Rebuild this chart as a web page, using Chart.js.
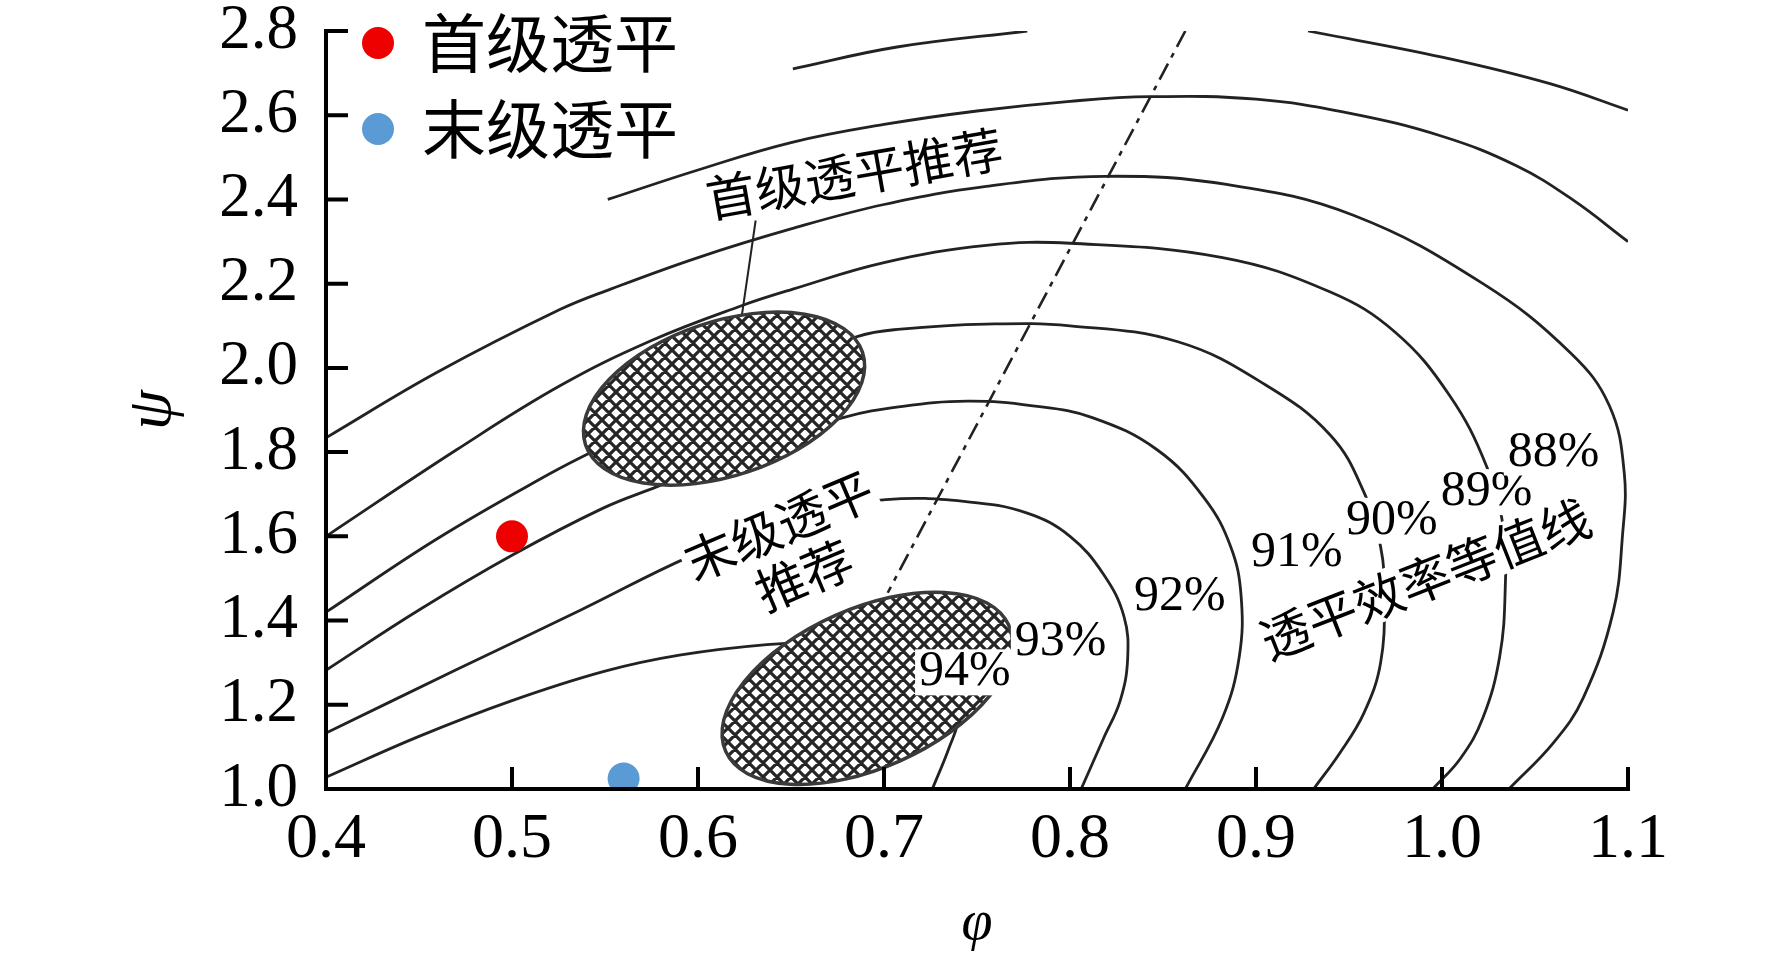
<!DOCTYPE html>
<html><head><meta charset="utf-8">
<script src="https://cdn.jsdelivr.net/npm/chart.js@4.4.1/dist/chart.umd.min.js"></script>
<style>html,body{margin:0;padding:0;background:#fff;overflow:hidden}#wrap{width:1772px;height:961px}</style>
</head><body><div id="wrap"><canvas id="c" width="1772" height="961"></canvas></div>
<script>
// ---------- data ----------
const xTicks = [0.4, 0.5, 0.6, 0.7, 0.8, 0.9, 1.0, 1.1];
const xTickLabels = ['0.4', '0.5', '0.6', '0.7', '0.8', '0.9', '1.0', '1.1'];
const yTicks = [1.0, 1.2, 1.4, 1.6, 1.8, 2.0, 2.2, 2.4, 2.6, 2.8];
const yTickLabels = ['1.0', '1.2', '1.4', '1.6', '1.8', '2.0', '2.2', '2.4', '2.6', '2.8'];
const xTitle = 'φ';
const yTitle = 'ψ';

const seriesNames = ['首级透平', '末级透平'];
const firstStagePoint = [[0.50, 1.60]];
const lastStagePoint = [[0.56, 1.025]];

// efficiency iso-lines (φ, ψ)
const iso94 = [[0.400,1.028],[0.450,1.125],[0.500,1.210],[0.550,1.280],[0.590,1.318],[0.637,1.343],[0.675,1.350],[0.705,1.342],[0.725,1.300],[0.737,1.240],[0.740,1.170],[0.735,1.098],[0.726,1.000]];
const iso93 = [[0.400,1.133],[0.470,1.283],[0.537,1.425],[0.596,1.553],[0.650,1.645],[0.701,1.687],[0.745,1.682],[0.777,1.655],[0.800,1.600],[0.818,1.510],[0.829,1.410],[0.831,1.310],[0.827,1.210],[0.818,1.120],[0.806,1.000]];
const iso92 = [[0.400,1.282],[0.450,1.425],[0.500,1.555],[0.549,1.667],[0.578,1.718],[0.630,1.810],[0.678,1.882],[0.709,1.908],[0.745,1.921],[0.780,1.910],[0.812,1.882],[0.847,1.805],[0.8725,1.689],[0.8865,1.574],[0.892,1.458],[0.891,1.314],[0.882,1.169],[0.862,1.000]];
const iso91 = [[0.400,1.420],[0.460,1.595],[0.520,1.748],[0.545,1.805],[0.620,1.965],[0.686,2.075],[0.709,2.092],[0.755,2.104],[0.800,2.100],[0.858,2.062],[0.905,1.960],[0.940,1.840],[0.958,1.705],[0.967,1.575],[0.969,1.460],[0.967,1.300],[0.958,1.180],[0.945,1.085],[0.931,1.000]];
const iso90 = [[0.400,1.600],[0.470,1.805],[0.526,1.958],[0.575,2.065],[0.623,2.147],[0.651,2.187],[0.700,2.250],[0.755,2.291],[0.800,2.296],[0.882,2.262],[0.940,2.180],[0.975,2.084],[1.004,1.935],[1.024,1.766],[1.033,1.620],[1.034,1.477],[1.031,1.314],[1.022,1.169],[1.010,1.073],[0.995,1.000]];
const iso89 = [[0.400,1.834],[0.460,1.990],[0.526,2.139],[0.553,2.187],[0.600,2.262],[0.650,2.330],[0.700,2.388],[0.755,2.431],[0.819,2.455],[0.885,2.435],[0.952,2.363],[1.022,2.200],[1.069,2.036],[1.090,1.910],[1.098,1.750],[1.097,1.600],[1.092,1.420],[1.076,1.217],[1.060,1.110],[1.036,1.000]];
const iso88 = [[0.5515,2.400],[0.600,2.470],[0.650,2.535],[0.700,2.578],[0.750,2.610],[0.800,2.633],[0.843,2.644],[0.900,2.638],[0.950,2.605],[1.000,2.550],[1.040,2.480],[1.070,2.400],[1.100,2.300]];
const iso87Left = [[0.651,2.710],[0.707,2.762],[0.777,2.800]];
const iso87Right = [[0.928,2.800],[1.000,2.738],[1.058,2.675],[1.100,2.612]];

// optimum ridge (dash-dot) and leader line
const ridgeLine = [[0.862,2.800],[0.702,1.466]];
const leaderLine = [[0.631,2.350],[0.6226,2.095]];

// recommended zones (ellipses): centre, half-axes, tilt
const zoneCenterX = [0.614, 0.691];
const zoneCenterY = [1.927, 1.239];
const zoneHalfMajor = [0.0785, 0.0833];   // in φ units
const zoneHalfMinor = [0.183, 0.189];     // in ψ units
const zoneTiltDeg = [18.5, 24];

// contour labels
const isoLabels = ['94%', '93%', '92%', '91%', '90%', '89%', '88%'];
const isoLabelX = [0.7435, 0.795, 0.859, 0.922, 0.973, 1.024, 1.060];
const isoLabelY = [1.277, 1.350, 1.456, 1.560, 1.637, 1.705, 1.799];

const noteTexts = ['首级透平推荐', '末级透平', '推荐', '透平效率等值线'];
const noteX = [0.684, 0.6435, 0.657, 0.991];
const noteY = [2.461, 1.625, 1.507, 1.499];
const noteAngle = [10, 23, 23, 21.5];

// ---------- chart ----------
const toXY = a => a.map(([x, y]) => ({x, y}));
const SERIF = '"Liberation Serif", "Times New Roman", serif';
const CJK = '"Noto Sans CJK SC", "Noto Sans CJK JP", sans-serif';

function lineDs(label, arr, extra) {
  return Object.assign({label, data: toXY(arr), showLine: true, borderColor: '#222', borderWidth: 2.8,
    pointRadius: 0, pointHoverRadius: 0, tension: 0.4, fill: false}, extra || {});
}

function makeHatch() {
  const n = 14;
  const pc = document.createElement('canvas');
  pc.width = n; pc.height = n;
  const p = pc.getContext('2d');
  p.fillStyle = '#fff'; p.fillRect(0, 0, n, n);
  p.strokeStyle = '#262626'; p.lineWidth = 3.2;
  p.beginPath();
  for (const o of [-n, 0, n]) {
    p.moveTo(o, 0); p.lineTo(o + n, n);
    p.moveTo(o + n, 0); p.lineTo(o, n);
  }
  p.stroke();
  return p.createPattern(pc, 'repeat');
}

function drawText(ctx, text, px, py, angleDeg, font, box) {
  ctx.save();
  ctx.translate(px, py);
  ctx.rotate(-angleDeg * Math.PI / 180);
  ctx.font = font;
  const w = ctx.measureText(text).width;
  if (box) {
    ctx.fillStyle = '#fff';
    ctx.fillRect(-w / 2 - box.px, -box.h / 2, w + 2 * box.px, box.h);
  }
  ctx.fillStyle = '#000';
  ctx.textAlign = 'center';
  ctx.textBaseline = 'middle';
  ctx.fillText(text, 0, 0);
  ctx.restore();
}

const decoPlugin = {
  id: 'deco',
  afterDatasetsDraw(chart) {
    const {ctx, chartArea: ca, scales: {x, y}} = chart;
    const hatch = makeHatch();
    ctx.save();
    ctx.beginPath(); ctx.rect(ca.left, ca.top, ca.right - ca.left, ca.bottom - ca.top); ctx.clip();
    for (let i = 0; i < zoneCenterX.length; i++) {
      const cx = x.getPixelForValue(zoneCenterX[i]);
      const cy = y.getPixelForValue(zoneCenterY[i]);
      const a = Math.abs(x.getPixelForValue(zoneCenterX[i] + zoneHalfMajor[i]) - cx);
      const b = Math.abs(y.getPixelForValue(zoneCenterY[i] + zoneHalfMinor[i]) - cy);
      ctx.beginPath();
      ctx.ellipse(cx, cy, a, b, -zoneTiltDeg[i] * Math.PI / 180, 0, Math.PI * 2);
      ctx.fillStyle = '#fff'; ctx.fill();
      ctx.fillStyle = hatch; ctx.fill();
      ctx.lineWidth = 3.5; ctx.strokeStyle = '#3a3a3a'; ctx.stroke();
    }
    ctx.restore();
    for (let i = 0; i < isoLabels.length; i++) {
      drawText(ctx, isoLabels[i], x.getPixelForValue(isoLabelX[i]), y.getPixelForValue(isoLabelY[i]), 0,
        '50px ' + SERIF, {px: 4, h: 46});
    }
    for (let i = 0; i < noteTexts.length; i++) {
      drawText(ctx, noteTexts[i], x.getPixelForValue(noteX[i]), y.getPixelForValue(noteY[i]), noteAngle[i],
        '50px ' + CJK, {px: 3, h: 50});
    }
  },
  afterDraw(chart) {
    const {ctx, chartArea: ca, scales: {x, y}} = chart;
    const x0 = x.getPixelForValue(xTicks[0]), x1 = x.getPixelForValue(xTicks[xTicks.length - 1]);
    const y0 = y.getPixelForValue(yTicks[0]), y1 = y.getPixelForValue(yTicks[yTicks.length - 1]);
    ctx.save();
    ctx.strokeStyle = '#000'; ctx.lineWidth = 4; ctx.lineCap = 'square';
    ctx.beginPath();
    ctx.moveTo(x0, y1); ctx.lineTo(x0, y0); ctx.lineTo(x1, y0);
    ctx.stroke();
    ctx.lineCap = 'butt';
    ctx.beginPath();
    xTicks.slice(1).forEach(v => { const p = x.getPixelForValue(v); ctx.moveTo(p, y0); ctx.lineTo(p, y0 - 22); });
    yTicks.slice(1).forEach(v => { const p = y.getPixelForValue(v); ctx.moveTo(x0, p); ctx.lineTo(x0 + 22, p); });
    ctx.stroke();
    // legend
    const colors = ['#ee0000', '#5b9bd5'];
    seriesNames.forEach((name, i) => {
      const ly = ca.top + 12 + i * 86;
      ctx.beginPath(); ctx.fillStyle = colors[i];
      ctx.arc(ca.left + 52, ly, 16, 0, Math.PI * 2); ctx.fill();
      ctx.fillStyle = '#000'; ctx.font = '64px ' + CJK; ctx.textAlign = 'left'; ctx.textBaseline = 'middle';
      ctx.fillText(name, ca.left + 96, ly);
    });
    ctx.restore();
  }
};

function build() {
  const ctx = document.getElementById('c').getContext('2d');
  new Chart(ctx, {
    type: 'scatter',
    data: {
      datasets: [
        {label: seriesNames[0], data: toXY(firstStagePoint), pointRadius: 16, pointHoverRadius: 16,
          backgroundColor: '#ee0000', borderWidth: 0, showLine: false, clip: 0},
        {label: seriesNames[1], data: toXY(lastStagePoint), pointRadius: 16, pointHoverRadius: 16,
          backgroundColor: '#5b9bd5', borderWidth: 0, showLine: false, clip: 0},
        lineDs('94%', iso94), lineDs('93%', iso93), lineDs('92%', iso92), lineDs('91%', iso91),
        lineDs('90%', iso90), lineDs('89%', iso89), lineDs('88%', iso88),
        lineDs('87%a', iso87Left), lineDs('87%b', iso87Right),
        lineDs('ridge', ridgeLine, {borderWidth: 2.6, borderDash: [18, 7, 5, 7], tension: 0}),
        lineDs('leader', leaderLine, {borderWidth: 2, tension: 0})
      ]
    },
    options: {
      responsive: false, maintainAspectRatio: false, devicePixelRatio: 1, animation: false, events: [],
      layout: {padding: {top: 31, right: 144, bottom: 0, left: 0}},
      plugins: {legend: {display: false}, tooltip: {enabled: false}},
      scales: {
        x: {
          type: 'linear', min: 0.4, max: 1.1,
          afterBuildTicks: s => { s.ticks = xTicks.map(v => ({value: v})); },
          afterFit: s => { s.height = 172; s.paddingLeft = 0; s.paddingRight = 0; },
          grid: {display: false, drawTicks: false}, border: {display: false},
          ticks: {color: '#000', padding: 13, maxRotation: 0, autoSkip: false,
            font: {family: SERIF, size: 64, lineHeight: 1.2}, callback: (v, i) => xTickLabels[i]},
          title: {display: true, text: xTitle, color: '#000',
            font: {family: SERIF, size: 56, style: 'italic', lineHeight: 1}, padding: {top: 0, bottom: 9}}
        },
        y: {
          type: 'linear', min: 1.0, max: 2.8,
          afterBuildTicks: s => { s.ticks = yTicks.map(v => ({value: v})); },
          afterFit: s => { s.width = 326; s.paddingTop = 0; s.paddingBottom = 0; },
          grid: {display: false, drawTicks: false}, border: {display: false},
          ticks: {color: '#000', padding: 28, autoSkip: false,
            font: {family: SERIF, size: 63, lineHeight: 0.95}, callback: (v, i) => yTickLabels[i]},
          title: {display: true, text: yTitle, color: '#000',
            font: {family: SERIF, size: 64, style: 'italic', lineHeight: 1}, padding: {top: 121, bottom: 0}}
        }
      }
    },
    plugins: [decoPlugin]
  });
}

const fontsReady = document.fonts ? Promise.all([
  document.fonts.load('64px "Liberation Serif"'),
  document.fonts.load('italic 64px "Liberation Serif"'),
  document.fonts.load('50px "Noto Sans CJK SC"', '首级透平推荐末效率等值线')
]) : Promise.resolve();
fontsReady.then(build, build);
</script>
</body></html>
